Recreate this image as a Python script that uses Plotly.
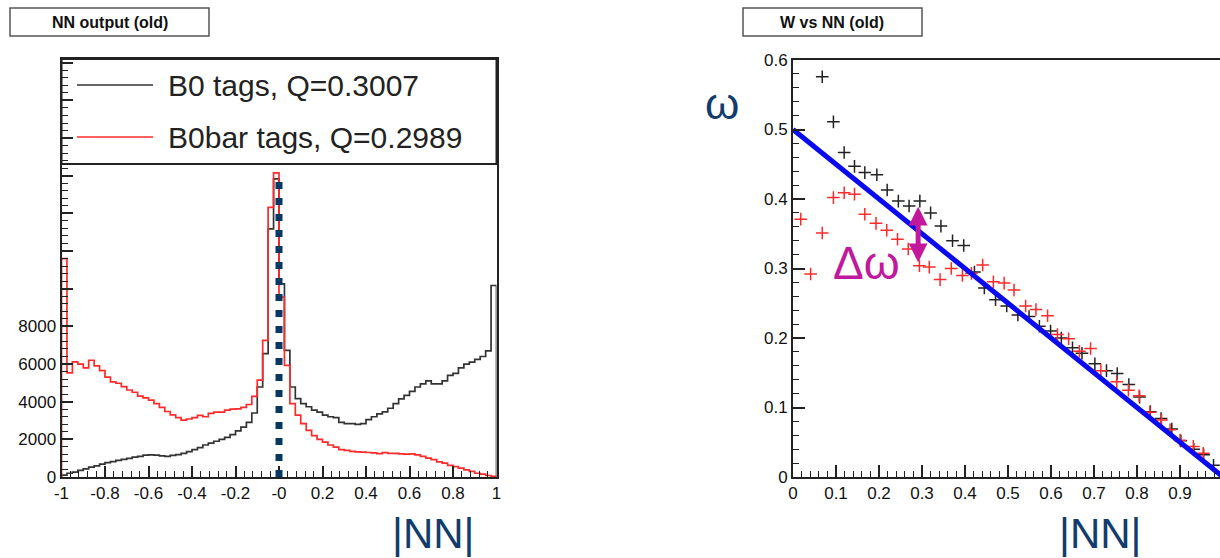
import plotly.graph_objects as go

# ---------------- data ----------------
# NN output histogram: 80 bins of width 0.025 over [-1, 1]
bin_edges_lo = -1.0
bin_width = 0.025
b0_counts = [
    100, 200, 260, 350, 430, 520, 590, 680, 760, 820,
    880, 940, 990, 1060, 1100, 1160, 1170, 1160, 1120, 1100,
    1150, 1190, 1250, 1350, 1450, 1560, 1700, 1800, 1900, 2000,
    2100, 2250, 2450, 2650, 2900, 3400, 4780, 6550, 13180, 15830,
    10260, 6730, 4780, 4160, 3900, 3730, 3550, 3450, 3290, 3200,
    3150, 2900, 2840, 2840, 2800, 2840, 3050, 3200, 3350, 3460,
    3650, 3900, 4150, 4340, 4550, 4780, 4950, 5100, 4950, 4950,
    5100, 5400, 5500, 5800, 6000, 6100, 6250, 6400, 6700, 10170,
]
b0bar_counts = [
    11600, 5530, 6110, 6000, 5800, 6200, 5900, 5650, 5300, 5050,
    4980, 4800, 4620, 4500, 4300, 4200, 4080, 3900, 3700, 3480,
    3300, 3150, 3020, 3080, 3150, 3270, 3200, 3380, 3450, 3450,
    3550, 3600, 3620, 3700, 3850, 4280, 5150, 7260, 14320, 16150,
    9550, 5930, 3900, 3290, 2840, 2480, 2200, 2000, 1850, 1700,
    1590, 1450, 1410, 1360, 1330, 1320, 1300, 1280, 1240, 1290,
    1260, 1250, 1230, 1210, 1230, 1180, 1100, 1000, 920, 800,
    740, 620, 550, 470, 380, 300, 200, 150, 80, 30,
]
legend_b0 = "B0 tags, Q=0.3007"
legend_b0bar = "B0bar tags, Q=0.2989"

# mistag fraction w vs |NN|
b0_nn = [0.068, 0.094, 0.119, 0.143, 0.167, 0.195, 0.219, 0.245, 0.270, 0.295,
         0.320, 0.344, 0.371, 0.397, 0.422, 0.445, 0.471, 0.497, 0.523, 0.549,
         0.573, 0.599, 0.624, 0.650, 0.672, 0.702, 0.729, 0.754, 0.781, 0.806,
         0.831, 0.856, 0.881, 0.902, 0.932, 0.955, 0.978]
b0_w = [0.576, 0.511, 0.467, 0.447, 0.438, 0.435, 0.413, 0.397, 0.390, 0.397,
        0.380, 0.361, 0.340, 0.333, 0.295, 0.272, 0.255, 0.246, 0.233, 0.231,
        0.217, 0.210, 0.200, 0.186, 0.178, 0.163, 0.153, 0.149, 0.133, 0.115,
        0.094, 0.084, 0.069, 0.052, 0.040, 0.032, 0.017]
b0bar_nn = [0.018, 0.041, 0.068, 0.094, 0.119, 0.143, 0.167, 0.193, 0.218, 0.243,
            0.268, 0.294, 0.317, 0.342, 0.368, 0.394, 0.415, 0.441, 0.466, 0.491,
            0.514, 0.541, 0.565, 0.592, 0.615, 0.641, 0.666, 0.692, 0.716, 0.753,
            0.780, 0.805, 0.830, 0.857, 0.877, 0.900, 0.931, 0.954]
b0bar_w = [0.371, 0.292, 0.351, 0.402, 0.409, 0.407, 0.378, 0.365, 0.355, 0.342,
           0.328, 0.304, 0.302, 0.284, 0.300, 0.290, 0.293, 0.305, 0.281, 0.279,
           0.269, 0.246, 0.241, 0.232, 0.205, 0.199, 0.181, 0.185, 0.153, 0.137,
           0.125, 0.117, 0.093, 0.082, 0.068, 0.053, 0.044, 0.034]
fit_nn = [0.0, 1.0]
fit_w = [0.5, 0.0]

# ---------------- helpers ----------------
def step_outline(counts):
    """Histogram outline: edges + closing drop to zero at both ends."""
    edges = [bin_edges_lo + bin_width * i for i in range(len(counts) + 1)]
    xs = [edges[0]] + edges + [edges[-1]]
    ys = [0] + counts + [counts[-1], 0]
    return xs, ys

FONT = "Liberation Sans, Arial, sans-serif"
NAVY = "#123c6b"
MAGENTA = "#c2189c"
AXC = "#222222"

fig = go.Figure()

xs, ys = step_outline(b0_counts)
fig.add_trace(go.Scatter(x=xs, y=ys, mode="lines", line=dict(color="#333333", width=1.7, shape="hv"),
                         xaxis="x", yaxis="y", showlegend=False))
xs, ys = step_outline(b0bar_counts)
fig.add_trace(go.Scatter(x=xs, y=ys, mode="lines", line=dict(color="#ff2a2a", width=1.7, shape="hv"),
                         xaxis="x", yaxis="y", showlegend=False))

fig.add_trace(go.Scatter(x=b0_nn, y=b0_w, mode="markers",
                         marker=dict(symbol="cross-thin", size=9, line=dict(color="#222222", width=1.5)),
                         xaxis="x2", yaxis="y2", showlegend=False))
fig.add_trace(go.Scatter(x=b0bar_nn, y=b0bar_w, mode="markers",
                         marker=dict(symbol="cross-thin", size=9, line=dict(color="#ff2a2a", width=1.5)),
                         xaxis="x2", yaxis="y2", showlegend=False))
fig.add_trace(go.Scatter(x=fit_nn, y=fit_w, mode="lines", line=dict(color="#0a0aee", width=5),
                         xaxis="x2", yaxis="y2", showlegend=False))

left_xdom = [61.5 / 1220, 496.5 / 1220]
ydom_bottom = (558 - 477) / 558
left_ydom = [ydom_bottom, (558 - 59) / 558]
right_xdom = [793 / 1220, 1.0]
right_ydom = [ydom_bottom, (558 - 60) / 558]

tickfont = dict(family=FONT, size=17, color="#111111")

y_major = list(range(0, 22001, 2000))
y_text = [str(v) if v <= 8000 else "" for v in y_major]
x_major = [-1, -0.8, -0.6, -0.4, -0.2, 0, 0.2, 0.4, 0.6, 0.8, 1]
x_text = ["-1", "-0.8", "-0.6", "-0.4", "-0.2", "-0", "0.2", "0.4", "0.6", "0.8", "1"]

common = dict(showline=True, linecolor=AXC, linewidth=2, showgrid=False, zeroline=False,
              automargin=False, tickmode="array", tickwidth=1.5, tickcolor=AXC,
              ticks="inside", tickfont=tickfont)


def minor(tick0, dtick):
    return dict(ticks="inside", ticklen=6, tickwidth=1.2, tickcolor=AXC,
                tickmode="linear", tick0=tick0, dtick=dtick, showgrid=False)


fig.update_layout(
    width=1220, height=558,
    margin=dict(l=0, r=0, t=0, b=0),
    paper_bgcolor="white", plot_bgcolor="white",
    xaxis=dict(domain=left_xdom, range=[-1, 1], anchor="y", mirror=True,
               tickvals=x_major, ticktext=x_text, ticklen=11,
               minor=minor(-1, 0.04), **common),
    yaxis=dict(domain=left_ydom, range=[0, 22200], anchor="x", mirror=True,
               tickvals=y_major, ticktext=y_text, ticklen=11,
               minor=minor(0, 400), **common),
    xaxis2=dict(domain=right_xdom, range=[0, 427 / 430], anchor="y2", mirror=True,
                tickvals=[0, 0.1, 0.2, 0.3, 0.4, 0.5, 0.6, 0.7, 0.8, 0.9],
                ticktext=["0", "0.1", "0.2", "0.3", "0.4", "0.5", "0.6", "0.7", "0.8", "0.9"],
                ticklen=12, minor=minor(0, 0.02), **common),
    yaxis2=dict(domain=right_ydom, range=[0, 0.6], anchor="x2", mirror=False,
                tickvals=[0, 0.1, 0.2, 0.3, 0.4, 0.5, 0.6],
                ticktext=["0", "0.1", "0.2", "0.3", "0.4", "0.5", "0.6"],
                ticklen=12, minor=minor(0, 0.02), **common),
)


def px_x(p):
    return p / 1220


def px_y(p):
    return (558 - p) / 558


shapes = []
annotations = []

# title boxes
for (x0, x1, label) in [(10, 209, "NN output (old)"), (743, 922, "W vs NN (old)")]:
    shapes.append(dict(type="rect", xref="paper", yref="paper",
                       x0=px_x(x0), x1=px_x(x1), y0=px_y(36), y1=px_y(8),
                       line=dict(color="#555555", width=1.5), fillcolor="white"))
    annotations.append(dict(xref="paper", yref="paper", x=px_x((x0 + x1) / 2), y=px_y(22),
                            text="<b>" + label + "</b>", showarrow=False,
                            xanchor="center", yanchor="middle",
                            font=dict(family=FONT, size=16, color="#111111")))

# legend box inside the histogram frame
shapes.append(dict(type="rect", xref="paper", yref="paper",
                   x0=left_xdom[0], x1=left_xdom[1], y0=px_y(164), y1=left_ydom[1],
                   line=dict(color=AXC, width=2), fillcolor="rgba(0,0,0,0)"))
for (py, color, label) in [(85, "#333333", legend_b0), (137, "#ff2a2a", legend_b0bar)]:
    shapes.append(dict(type="line", xref="paper", yref="paper",
                       x0=px_x(77), x1=px_x(153), y0=px_y(py), y1=px_y(py),
                       line=dict(color=color, width=1.6)))
    annotations.append(dict(xref="paper", yref="paper", x=px_x(166), y=px_y(py),
                            text=label, showarrow=False, xanchor="left", yanchor="middle",
                            font=dict(family=FONT, size=30, color="#222222")))

# dotted marker at NN = 0, drawn upward from the axis
shapes.append(dict(type="line", xref="x", yref="y", x0=0, x1=0,
                   y0=0, y1=max(b0bar_counts),
                   line=dict(color="#073763", width=7, dash="7px,9px")))

# Δω arrow between the two tag populations
annotations.append(dict(xref="x2", yref="y2", axref="x2", ayref="y2",
                        x=0.291, y=0.309, ax=0.291, ay=0.391, text="",
                        showarrow=True, arrowside="end+start", arrowhead=2,
                        arrowsize=0.75, arrowwidth=5, arrowcolor=MAGENTA))
annotations.append(dict(xref="paper", yref="paper", x=px_x(866), y=px_y(263),
                        text="Δω", showarrow=False, xanchor="center", yanchor="middle",
                        font=dict(family=FONT, size=46, color=MAGENTA)))

# axis labels
annotations.append(dict(xref="paper", yref="paper", x=px_x(722), y=px_y(103),
                        text="ω", showarrow=False, xanchor="center", yanchor="middle",
                        font=dict(family=FONT, size=44, color=NAVY)))
for cx in (433, 1100):
    annotations.append(dict(xref="paper", yref="paper", x=px_x(cx), y=px_y(533),
                            text="|NN|", showarrow=False, xanchor="center", yanchor="middle",
                            font=dict(family=FONT, size=42, color=NAVY)))

fig.update_layout(shapes=shapes, annotations=annotations)

fig.write_html("out.html")
